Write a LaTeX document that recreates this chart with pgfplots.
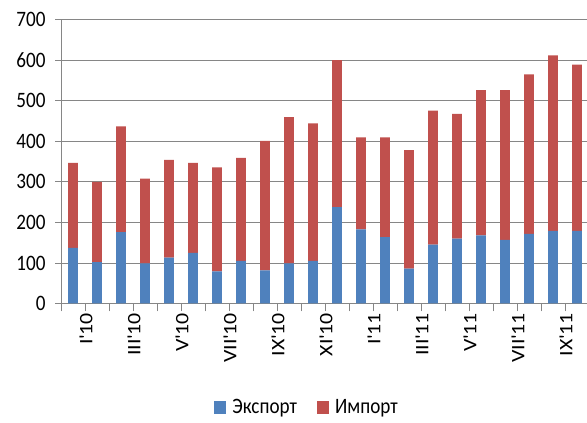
\documentclass[border=0pt]{standalone}
\usepackage{fontspec}
\setmainfont{Carlito}
\newfontfamily\ylab{Carlito}[FakeStretch=0.87]
\newfontfamily\xlab{Carlito}[FakeStretch=1.15]
\usepackage{pgfplots}
\pgfplotsset{compat=1.18}
\definecolor{exp}{HTML}{4F81BD}
\definecolor{imp}{HTML}{C0504D}
\definecolor{gridc}{RGB}{134,134,134}
\newcommand\q{\textquotesingle}
\begin{document}
\begin{tikzpicture}
\useasboundingbox (0,0) rectangle (587pt,423pt);
\begin{axis}[
    at={(61pt,119.5pt)}, anchor=south west,
    scale only axis, width=528pt, height=283.8pt,
    ybar stacked, bar width=9.6pt,
    xmin=-0.5, xmax=21.5, ymin=0, ymax=700,
    axis lines=left, axis line style={-, gridc, line width=0.9pt},
    ytick={0,100,...,700},
    ymajorgrids, major grid style={gridc, line width=0.9pt},
    xtick={0,2,...,20},
    xticklabels={I\q10,III\q10,V\q10,VII\q10,IX\q10,XI\q10,I\q11,III\q11,V\q11,VII\q11,IX\q11},
    minor xtick={-0.5,0.5,...,21.5},
    tick align=outside, major tick length=6pt, minor tick length=8pt,
    major x tick style={draw=none},
    tick style={gridc, line width=0.9pt},
    yticklabel style={font=\ylab\fontsize{22}{22}\selectfont, xshift=-6pt},
    xticklabel style={font=\xlab\fontsize{19}{19}\selectfont, rotate=90, anchor=east, yshift=-13pt},
    yticklabel={\pgfmathprintnumber[assume math mode=true]{\tick}},
    legend columns=2,
    legend style={draw=none, fill=none, at={(0.466,-0.33)}, anchor=north,
      inner sep=0pt, font=\ylab\fontsize{22}{22}\selectfont, column sep=4pt,
      /tikz/every even column/.append style={column sep=18pt}},
    legend image code/.code={\fill[#1] (0pt,-6.5pt) rectangle (12pt,6.5pt);},
]
\addplot[fill=exp, draw=none] coordinates {
  (0,137) (1,102) (2,176) (3,99) (4,113) (5,125) (6,79) (7,105) (8,82) (9,99) (10,105)
  (11,238) (12,183) (13,164) (14,86) (15,145) (16,160) (17,168) (18,157) (19,172) (20,179) (21,179)
};
\addlegendentry{Экспорт}
\addplot[fill=imp, draw=none] coordinates {
  (0,210) (1,198) (2,261) (3,209) (4,241) (5,222) (6,257) (7,254) (8,319) (9,361) (10,339)
  (11,362) (12,227) (13,246) (14,292) (15,331) (16,308) (17,358) (18,369) (19,393) (20,433) (21,410)
};
\addlegendentry{Импорт}
\end{axis}
\end{tikzpicture}
\end{document}
